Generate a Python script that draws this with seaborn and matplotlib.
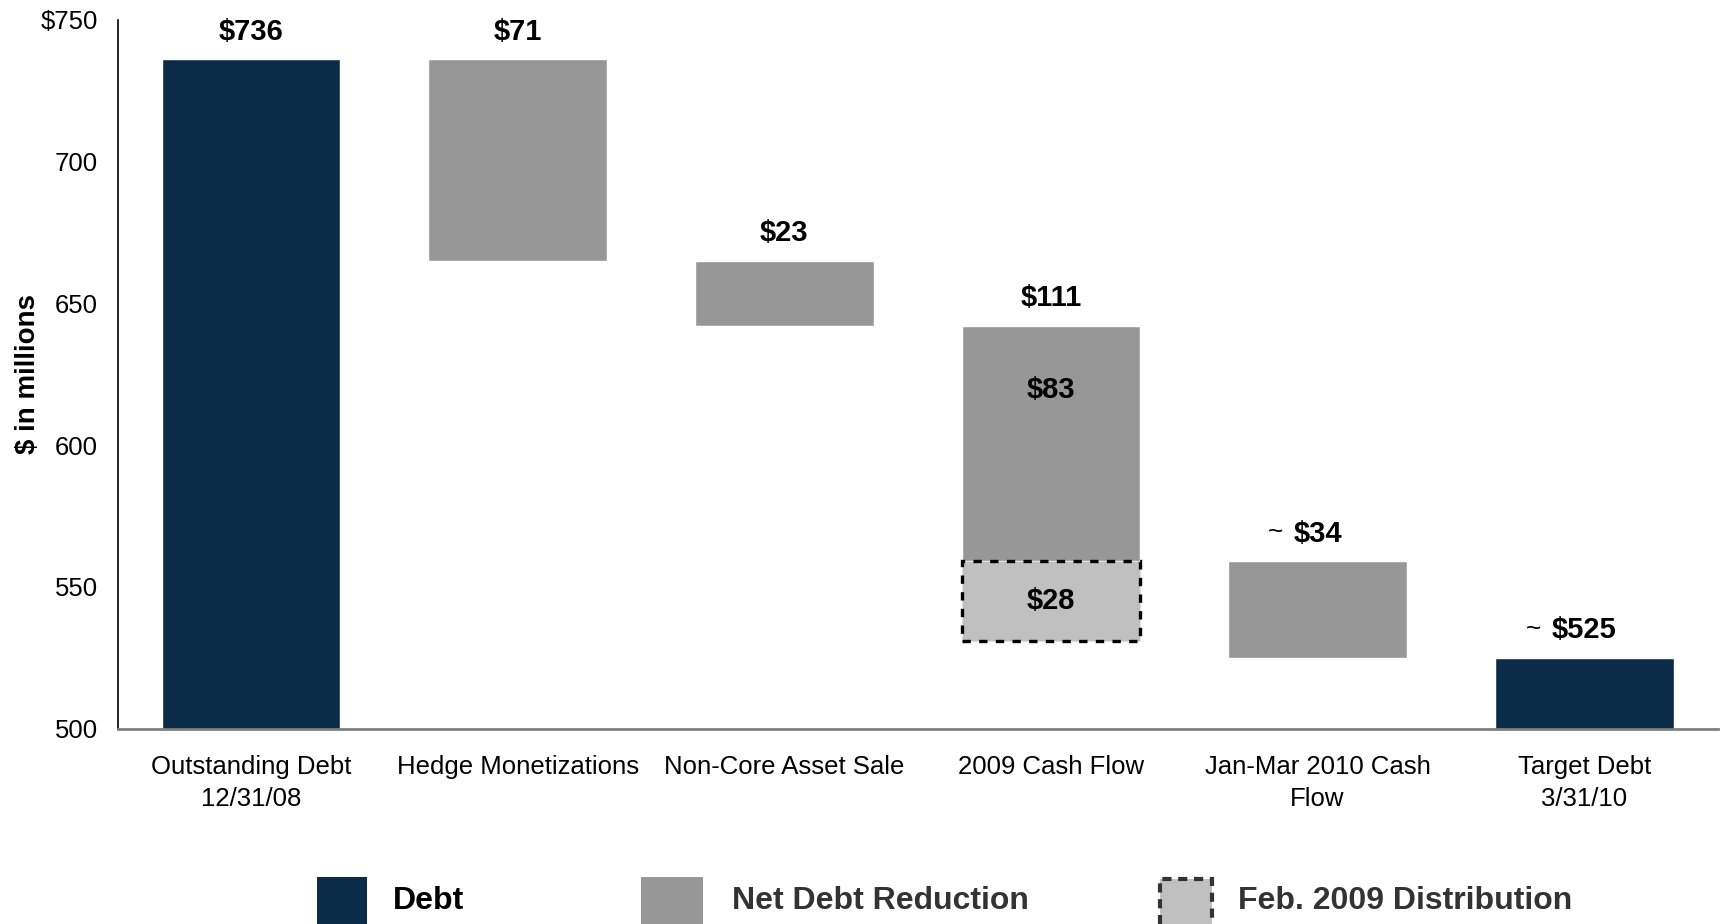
import numpy as np
import pandas as pd
import matplotlib
matplotlib.use("Agg")
import matplotlib.pyplot as plt
from matplotlib.patches import Rectangle
import seaborn as sns

# categories
steps = ["Outstanding Debt\n12/31/08", "Hedge Monetizations", "Non-Core Asset Sale",
         "2009 Cash Flow", "Jan-Mar 2010 Cash\nFlow", "Target Debt\n3/31/10"]

# debt bars (start at zero, axis clipped at 500)
debt_steps = [steps[0], steps[5]]
debt_values = [736, 525]

# net debt reduction pieces (floating)
reduction_steps = [steps[1], steps[2], steps[3], steps[4]]
reduction_low = [665, 642, 559, 525]
reduction_high = [736, 665, 642, 559]

# Feb. 2009 distribution piece
dist_steps = [steps[3]]
dist_low = [531]
dist_high = [559]

# labels over each step
top_labels = ["$736", "$71", "$23", "$111", "$34", "$525"]
top_values = [736, 736, 665, 642, 559, 525]
approx = [False, False, False, False, True, True]

y_ticks = [500, 550, 600, 650, 700, 750]
y_tick_labels = ["500", "550", "600", "650", "700", "$750"]

navy = "#0b2c48"
gray = "#979797"
light = "#c0c0c0"

sns.set_style("white")
plt.rcParams["font.family"] = ["Liberation Sans", "DejaVu Sans"]
plt.rcParams["text.color"] = "black"
plt.rcParams["axes.labelcolor"] = "black"
plt.rcParams["xtick.color"] = "black"
plt.rcParams["ytick.color"] = "black"

W, H = 1723, 924
fig = plt.figure(figsize=(W / 100, H / 100), dpi=100)
ax = fig.add_axes([117.6 / W, 1 - 728.6 / H, 1600 / W, 708.8 / H])


def floating_bars(names, low, high, **kw):
    df = pd.DataFrame({"step": names, "size": np.array(high) - np.array(low)})
    sns.barplot(data=df, x="step", y="size", order=steps, bottom=low, width=0.67,
                saturation=1, errorbar=None, ax=ax, **kw)


floating_bars(debt_steps, [0] * len(debt_values), debt_values, color=navy)
floating_bars(reduction_steps, reduction_low, reduction_high, color=gray)
floating_bars(dist_steps, dist_low, dist_high, color=light, edgecolor="black",
              linewidth=2.4, linestyle=(0, (2.5, 2.5)))

ax.set_xlim(-0.5, 5.5)
ax.set_ylim(500, 750)
ax.set_yticks(y_ticks)
ax.set_yticklabels(y_tick_labels)
ax.tick_params(axis="y", length=0, pad=14, labelsize=18.5)
ax.tick_params(axis="x", length=0, pad=19, labelsize=18.5)
for t in ax.get_xticklabels():
    t.set_linespacing(1.4)
ax.set_xlabel("")
ax.set_ylabel("$ in millions", fontsize=20, fontweight="bold", labelpad=0)

sns.despine(ax=ax)
ax.spines["left"].set_color("black")
ax.spines["left"].set_linewidth(1.2)
ax.spines["bottom"].set_color("#7f7f7f")
ax.spines["bottom"].set_linewidth(2)

# value labels
fs = 21
for i, (lbl, top, ap) in enumerate(zip(top_labels, top_values, approx)):
    ax.annotate(lbl, xy=(i, top), xytext=(0, 20), textcoords="offset points",
                ha="center", va="center", fontsize=fs, fontweight="bold")
    if ap:
        half = len(lbl) * 0.556 * fs / 2
        ax.annotate("~", xy=(i, top), xytext=(-(half + 13), 21), textcoords="offset points",
                    ha="center", va="center", fontsize=19)

# inner labels on 2009 cash flow
i09 = steps.index("2009 Cash Flow")
ax.annotate("$83", xy=(i09, reduction_high[2] - 0.27 * (reduction_high[2] - reduction_low[2])),
            ha="center", va="center", fontsize=fs, fontweight="bold")
ax.annotate("$28", xy=(i09, (dist_low[0] + dist_high[0]) / 2),
            ha="center", va="center", fontsize=fs, fontweight="bold")

# legend drawn at the bottom of the figure
legend_items = [
    ("Debt", navy, False, 317, 50, 393, "black"),
    ("Net Debt Reduction", gray, False, 641, 62, 732, "#333333"),
    ("Feb. 2009 Distribution", light, True, 1160, 52, 1238, "#333333"),
]
for label, fc, dashed, hx, hw, tx, tc in legend_items:
    if dashed:
        r = Rectangle((hx / W, -5 / H), hw / W, (924 - 879 + 5) / H, transform=fig.transFigure,
                      facecolor=fc, edgecolor="#333333", linewidth=3, linestyle=(0, (2.2, 1.6)))
    else:
        r = Rectangle((hx / W, -5 / H), hw / W, (924 - 877 + 5) / H, transform=fig.transFigure,
                      facecolor=fc, edgecolor="none")
    fig.add_artist(r)
    fig.text(tx / W, (H - 909) / H, label, fontsize=23, fontweight="bold", color=tc,
             ha="left", va="baseline")

fig.savefig("out.png", dpi=100)
